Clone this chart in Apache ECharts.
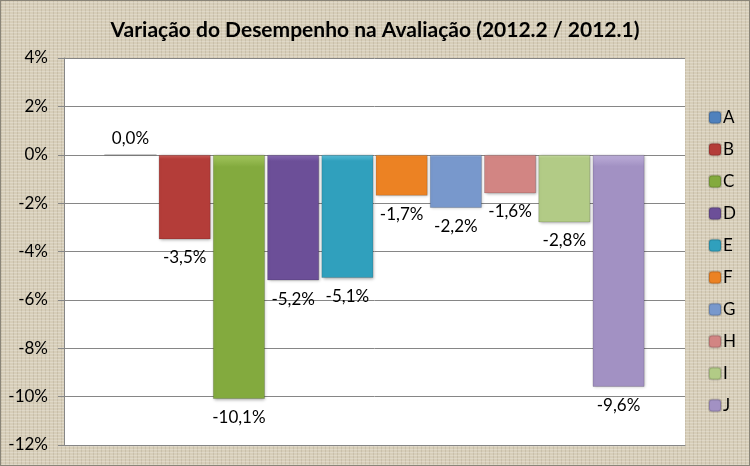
<!DOCTYPE html>
<html>
<head>
<meta charset="utf-8">
<script src="https://cdn.jsdelivr.net/npm/echarts@6/dist/echarts.min.js"></script>
<style>
  html, body { margin: 0; padding: 0; }
  #chart {
    width: 750px; height: 466px; box-sizing: border-box;
    border: 1px solid #8a8578;
    background-color: #d7ceb9;
    background-image:
      repeating-linear-gradient(0deg, rgba(255,255,255,0.22) 0px, rgba(255,255,255,0.22) 1px, transparent 1px, transparent 3px),
      repeating-linear-gradient(90deg, rgba(110,95,70,0.14) 0px, rgba(110,95,70,0.14) 1px, transparent 1px, transparent 4px);
  }
</style>
</head>
<body>
<div id="chart"></div>
<script>
  // dados
  const seriesNames = ['A', 'B', 'C', 'D', 'E', 'F', 'G', 'H', 'I', 'J'];
  const values = [0.0, -3.5, -10.1, -5.2, -5.1, -1.7, -2.2, -1.6, -2.8, -9.6];
  const colors = ['#4f81bd', '#b43d39', '#83aa3e', '#6c4f98', '#30a0bd', '#ec8223', '#7898cc', '#d28583', '#b2cb86', '#a291c3'];
  const lightColors = ['#7aa2d6', '#d0605c', '#a3c65e', '#8a6db5', '#5cc0da', '#f7a04e', '#9ab7e2', '#e4a3a1', '#cbe0a5', '#bdaed9'];
  const yTicks = { min: -12, max: 4, interval: 2 };

  const fmt = v => v.toFixed(1).replace('.', ',') + '%';

  const series = seriesNames.map((name, i) => ({
    name: name,
    type: 'bar',
    barGap: '4%',
    barCategoryGap: '13%',
    data: [values[i]],
    itemStyle: {
      color: new echarts.graphic.LinearGradient(0, 0, 0, 1, [
        { offset: 0, color: lightColors[i] },
        { offset: 0.05, color: colors[i] },
        { offset: 1, color: colors[i] }
      ]),
      borderColor: 'rgba(0,0,0,0.15)',
      borderWidth: 1,
      shadowColor: 'rgba(0,0,0,0.3)',
      shadowBlur: 3,
      shadowOffsetX: 1,
      shadowOffsetY: 1
    },
    label: {
      show: true,
      position: values[i] < 0 ? 'bottom' : 'top',
      distance: values[i] < 0 ? 10 : 7,
      formatter: p => fmt(p.value),
      fontFamily: 'Lato',
      fontSize: 17,
      color: '#000'
    }
  }));

  const chart = echarts.init(document.getElementById('chart'), null, { renderer: 'canvas' });
  chart.setOption({
    animation: false,
    backgroundColor: 'transparent',
    color: colors,
    title: {
      text: 'Variação do Desempenho na Avaliação (2012.2 / 2012.1)',
      left: 'center',
      top: 14,
      textStyle: { fontFamily: 'Lato', fontWeight: 'bold', fontSize: 21, color: '#000' }
    },
    legend: {
      orient: 'vertical',
      left: 702,
      top: 103,
      itemWidth: 12,
      itemHeight: 12,
      itemGap: 15,
      data: seriesNames,
      textStyle: { fontFamily: 'Lato', fontSize: 17, color: '#000', padding: [0, 0, 0, -3] }
    },
    grid: {
      left: 63, right: 64, top: 57, bottom: 20,
      show: true, backgroundColor: '#fff', borderWidth: 0
    },
    xAxis: {
      type: 'category',
      data: [''],
      axisLine: { onZero: false, lineStyle: { color: '#868686' } },
      axisTick: { show: false },
      axisLabel: { show: false }
    },
    yAxis: {
      type: 'value',
      min: yTicks.min, max: yTicks.max, interval: yTicks.interval,
      axisLine: { show: true, lineStyle: { color: '#868686' } },
      axisTick: { show: true, length: 6, lineStyle: { color: '#868686' } },
      splitLine: { lineStyle: { color: '#868686' } },
      axisLabel: {
        formatter: v => v + '%',
        fontFamily: 'Lato', fontSize: 17, color: '#000', margin: 16
      }
    },
    series: series
  });
</script>
</body>
</html>
